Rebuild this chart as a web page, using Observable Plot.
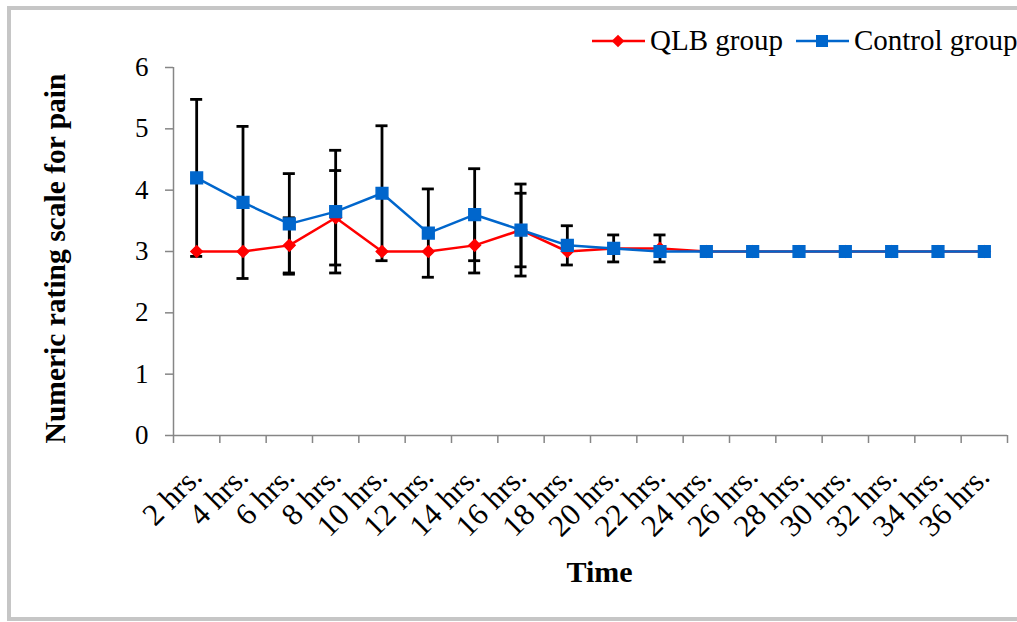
<!DOCTYPE html>
<html><head><meta charset="utf-8">
<script src="https://cdn.jsdelivr.net/npm/d3@7"></script>
<script src="https://cdn.jsdelivr.net/npm/@observablehq/plot@0.6"></script>
<style>
body{margin:0;background:#fff;}
#wrap{position:relative;width:1017px;height:622px;overflow:hidden;font-family:"Liberation Serif","Times New Roman",serif;background:#fff;}
#frame{position:absolute;left:7px;top:6px;width:1100px;height:607px;border:4px solid #c6c6c6;box-sizing:content-box;}
#chart{position:absolute;left:0;top:0;}
#legend{position:absolute;left:592px;top:24px;display:flex;align-items:center;font-size:29px;white-space:nowrap;color:#000;}
#legend .item{display:flex;align-items:center;margin-right:13px;}
#legend svg{margin-right:5px;}
</style>
</head><body>
<div id="wrap"><div id="frame"></div><div id="chart"></div><div id="legend"></div></div>
<script>
const categories = ["2 hrs.","4 hrs.","6 hrs.","8 hrs.","10 hrs.","12 hrs.","14 hrs.","16 hrs.","18 hrs.","20 hrs.","22 hrs.","24 hrs.","26 hrs.","28 hrs.","30 hrs.","32 hrs.","34 hrs.","36 hrs."];
const qlbValues     = [3.0,3.0,3.1,3.55,3.0,3.0,3.1,3.35,3.0,3.05,3.05,3.0,3.0,3.0,3.0,3.0,3.0,3.0];
const qlbSD         = [0,0,0.45,0.77,0,0,0.45,0.6,0,0,0.22,0,0,0,0,0,0,0];
const controlValues = [4.2,3.8,3.45,3.65,3.95,3.3,3.6,3.35,3.1,3.05,3.0,3.0,3.0,3.0,3.0,3.0,3.0,3.0];
const controlSD     = [1.28,1.24,0.82,1.0,1.1,0.72,0.75,0.75,0.32,0.22,0,0,0,0,0,0,0,0];
const yTicks = [0,1,2,3,4,5,6];
const seriesNames = ["QLB group","Control group"];
const colors = ["#ff0000","#0066cc"];

const rows = (vals, sds, name) => vals.map((v,i)=>({i, x:i+0.5, v, sd:sds[i], lo:v-sds[i], hi:v+sds[i], name}));
const qlb = rows(qlbValues, qlbSD, seriesNames[0]);
const ctl = rows(controlValues, controlSD, seriesNames[1]);
const bars = [...qlb, ...ctl].filter(d=>d.sd>0);
const capHalf = 0.13;

const chart = Plot.plot({
  width:1017, height:622,
  marginLeft:173, marginRight:10, marginTop:67, marginBottom:187,
  style:{fontFamily:"'Liberation Serif','Times New Roman',serif", background:"transparent", color:"#000"},
  x:{type:"linear", domain:[0,categories.length]},
  y:{domain:[0,6]},
  marks:[
    Plot.ruleX([0],{stroke:"#868686", strokeWidth:1.5}),
    Plot.ruleY([0],{stroke:"#868686", strokeWidth:1.5}),
    Plot.axisY(yTicks,{tickSize:8, tickPadding:17, fontSize:27, tickFormat:"d", stroke:"#868686", strokeWidth:1.5, label:null, fill:"#000"}),
    Plot.axisX(d3.range(0,categories.length+1),{tickSize:8, tickFormat:()=>"", stroke:"#868686", strokeWidth:1.5, label:null}),
    Plot.axisX(categories.map((c,i)=>i+0.5),{tickSize:0, tickPadding:36, tickRotate:-45, fontSize:31, tickFormat:d=>categories[Math.round(d-0.5)], label:null, fill:"#000"}),
    Plot.ruleX(bars,{x:"x", y1:"lo", y2:"hi", stroke:"#000", strokeWidth:2.8}),
    Plot.ruleY(bars,{y:"hi", x1:d=>d.x-capHalf, x2:d=>d.x+capHalf, stroke:"#000", strokeWidth:2.8}),
    Plot.ruleY(bars,{y:"lo", x1:d=>d.x-capHalf, x2:d=>d.x+capHalf, stroke:"#000", strokeWidth:2.8}),
    Plot.line(qlb,{x:"x", y:"v", stroke:colors[0], strokeWidth:2.5}),
    Plot.dot(qlb,{x:"x", y:"v", symbol:"diamond2", r:5.2, fill:colors[0], stroke:colors[0]}),
    Plot.line(ctl,{x:"x", y:"v", stroke:colors[1], strokeWidth:2.5}),
    Plot.dot(ctl,{x:"x", y:"v", symbol:"square", r:6.6, fill:colors[1], stroke:colors[1]}),
    Plot.text(["Numeric rating scale for pain"],{frameAnchor:"left", textAnchor:"middle", rotate:-90, dx:-118, dy:7, fontWeight:"bold", fontSize:29.5, fill:"#000"}),
    Plot.text(["Time"],{frameAnchor:"bottom", dy:146, dx:9, fontWeight:"bold", fontSize:30, fill:"#000"})
  ]
});
document.getElementById("chart").appendChild(chart);

const legend = document.getElementById("legend");
seriesNames.forEach((name,k)=>{
  const item = document.createElement("div");
  item.className="item";
  const marker = k===0
    ? `<rect x="21.5" y="5.5" width="9" height="9" transform="rotate(45 26 10)" fill="${colors[k]}"/>`
    : `<rect x="20" y="4" width="12" height="12" fill="${colors[k]}"/>`;
  item.innerHTML = `<svg width="53" height="20"><line x1="0" x2="53" y1="10" y2="10" stroke="${colors[k]}" stroke-width="2.5"/>${marker}</svg><span>${name}</span>`;
  legend.appendChild(item);
});
</script>
</body></html>
